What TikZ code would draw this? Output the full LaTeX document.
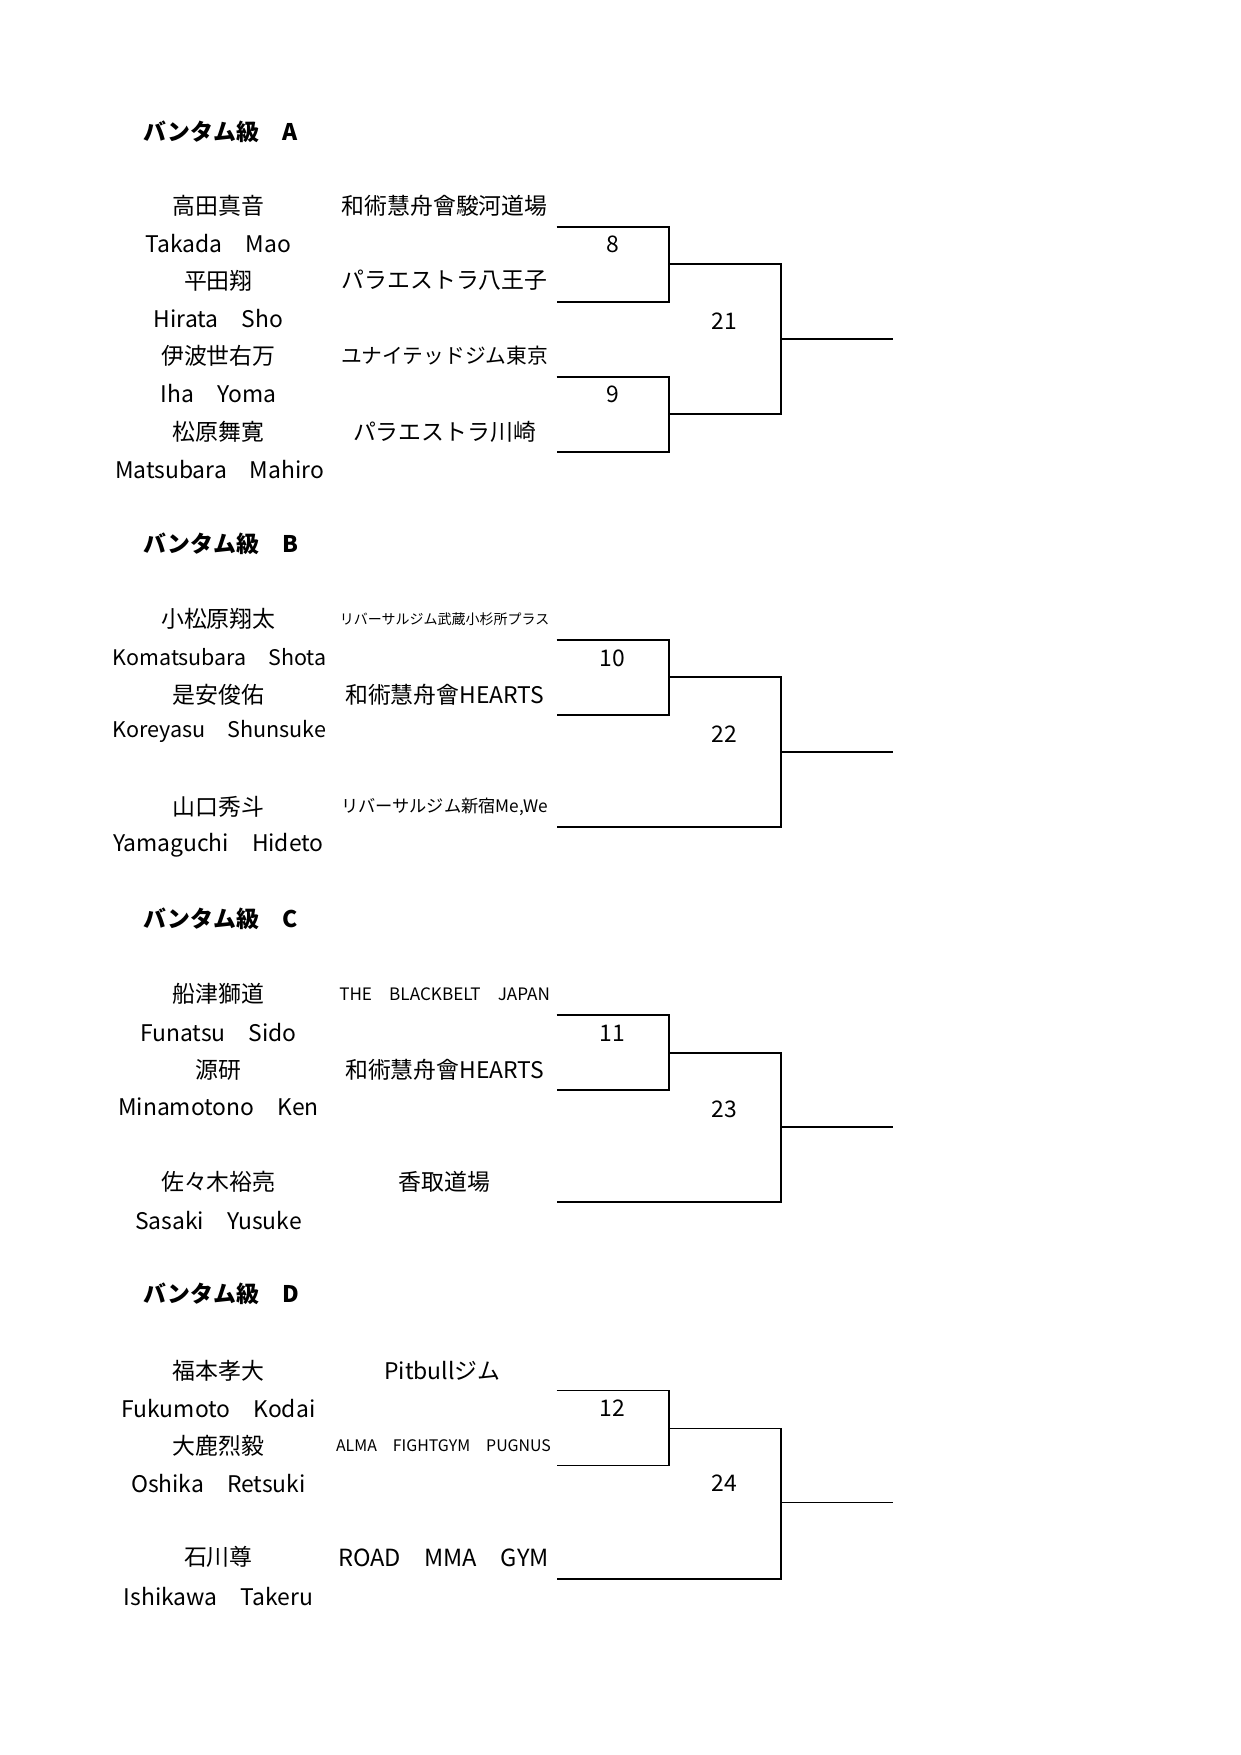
\documentclass[tikz,border=0pt]{standalone}
\usepackage{fontspec}
\setmainfont{Noto Sans CJK JP}
\usepackage{graphicx}
\begin{document}
\begin{tikzpicture}[x=0.018919cm,y=-0.018919cm,
  txt/.style={inner sep=0pt,anchor=center,font=\fontsize{11}{13}\selectfont},
  head/.style={inner sep=0pt,anchor=west,font=\bfseries\fontsize{11}{13}\selectfont},
  br/.style={line width=0.9pt,line join=miter}]
\useasboundingbox (0,-0.5) rectangle (1108,1566.5);
% ---------------- A ----------------
\node[head] (hA) at (128,117) {バンタム級　A};
\node[txt] (nA1) at (195,183) {高田真音};
\node[txt] (rA1) at (195,217) {Takada　Mao};
\node[txt] (nA2) at (195,250) {平田翔};
\node[txt] (rA2) at (195,284) {Hirata　Sho};
\node[txt] (nA3) at (195,317) {伊波世右万};
\node[txt] (rA3) at (195,351) {Iha　Yoma};
\node[txt] (nA4) at (195,385) {松原舞寛};
\node[txt] (rA4) at (196,419) {Matsubara　Mahiro};
\node[txt] (gA1) at (397,183) {和術慧舟會駿河道場};
\node[txt] (gA2) at (397,250) {パラエストラ八王子};
\node[txt] (gA3) at (397,317) {\resizebox{3.5cm}{!}{ユナイテッドジム東京}};
\node[txt] (gA4) at (397,385) {パラエストラ川崎};
\coordinate (A1) at (497,202); \coordinate (A2) at (497,269);
\coordinate (A3) at (497,336); \coordinate (A4) at (497,403);
\coordinate (M8) at (597,235); \coordinate (M9) at (597,369);
\coordinate (M21) at (697,302); \coordinate (Aout) at (797,302);
\draw[br] (A1) -| (M8) |- (A2);
\draw[br] (A3) -| (M9) |- (A4);
\draw[br] (M8) -| (M21) |- (M9);
\draw[br] (M21) -- (Aout);
\node[txt] (l8) at (547,218) {8};
\node[txt] (l9) at (547,352) {9};
\node[txt] (l21) at (647,286) {21};
% ---------------- B ----------------
\node[head] (hB) at (128,485) {バンタム級　B};
\node[txt] (nB1) at (195,552) {小松原翔太};
\node[txt] (rB1) at (196,586) {\resizebox{3.61cm}{!}{Komatsubara　Shota}};
\node[txt] (nB2) at (195,620) {是安俊佑};
\node[txt] (rB2) at (196,653) {\resizebox{3.61cm}{!}{Koreyasu　Shunsuke}};
\node[txt] (nB3) at (195,720) {山口秀斗};
\node[txt] (rB3) at (195,754) {Yamaguchi　Hideto};
\node[txt] (gB1) at (397,552) {\resizebox{3.54cm}{!}{リバーサルジム武蔵小杉所プラス}};
\node[txt] (gB2) at (397,620) {和術慧舟會HEARTS};
\node[txt] (gB3) at (397,720) {\resizebox{3.5cm}{!}{リバーサルジム新宿Me,We}};
\coordinate (B1) at (497,571); \coordinate (B2) at (497,638);
\coordinate (B3) at (497,738);
\coordinate (M10) at (597,604); \coordinate (M22) at (697,671);
\coordinate (Bout) at (797,671);
\draw[br] (B1) -| (M10) |- (B2);
\draw[br] (M10) -| (M22) |- (B3);
\draw[br] (M22) -- (Bout);
\node[txt] (l10) at (547,587) {10};
\node[txt] (l22) at (647,655) {22};
% ---------------- C ----------------
\node[head] (hC) at (128,820) {バンタム級　C};
\node[txt] (nC1) at (195,887) {船津獅道};
\node[txt] (rC1) at (195,921) {Funatsu　Sido};
\node[txt] (nC2) at (195,955) {源研};
\node[txt] (rC2) at (195,988) {Minamotono　Ken};
\node[txt] (nC3) at (195,1055) {佐々木裕亮};
\node[txt] (rC3) at (195,1089) {Sasaki　Yusuke};
\node[txt] (gC1) at (397,887) {\resizebox{3.56cm}{!}{THE　BLACKBELT　JAPAN}};
\node[txt] (gC2) at (397,955) {和術慧舟會HEARTS};
\node[txt] (gC3) at (397,1055) {香取道場};
\coordinate (C1) at (497,906); \coordinate (C2) at (497,973);
\coordinate (C3) at (497,1073);
\coordinate (M11) at (597,940); \coordinate (M23) at (697,1006);
\coordinate (Cout) at (797,1006);
\draw[br] (C1) -| (M11) |- (C2);
\draw[br] (M11) -| (M23) |- (C3);
\draw[br] (M23) -- (Cout);
\node[txt] (l11) at (547,922) {11};
\node[txt] (l23) at (647,990) {23};
% ---------------- D ----------------
\node[head] (hD) at (128,1155) {バンタム級　D};
\node[txt] (nD1) at (195,1223) {福本孝大};
\node[txt] (rD1) at (195,1257) {Fukumoto　Kodai};
\node[txt] (nD2) at (195,1290) {大鹿烈毅};
\node[txt] (rD2) at (195,1324) {Oshika　Retsuki};
\node[txt] (nD3) at (195,1390) {石川尊};
\node[txt] (rD3) at (195,1425) {Ishikawa　Takeru};
\node[txt] (gD1) at (395,1223) {Pitbullジム};
\node[txt] (gD2) at (396,1290) {\resizebox{3.63cm}{!}{ALMA　FIGHTGYM　PUGNUS}};
\node[txt] (gD3) at (396,1390) {\resizebox{3.56cm}{!}{ROAD　MMA　GYM}};
\coordinate (D1) at (497,1241); \coordinate (D2) at (497,1308);
\coordinate (D3) at (497,1409);
\coordinate (M12) at (597,1275); \coordinate (M24) at (697,1341);
\coordinate (Dout) at (797,1341);
\draw[br] (D1) -| (M12) |- (D2);
\draw[br] (M12) -| (M24) |- (D3);
\draw[br] (M24) -- (Dout);
\node[txt] (l12) at (547,1257) {12};
\node[txt] (l24) at (647,1324) {24};
\end{tikzpicture}
\end{document}
